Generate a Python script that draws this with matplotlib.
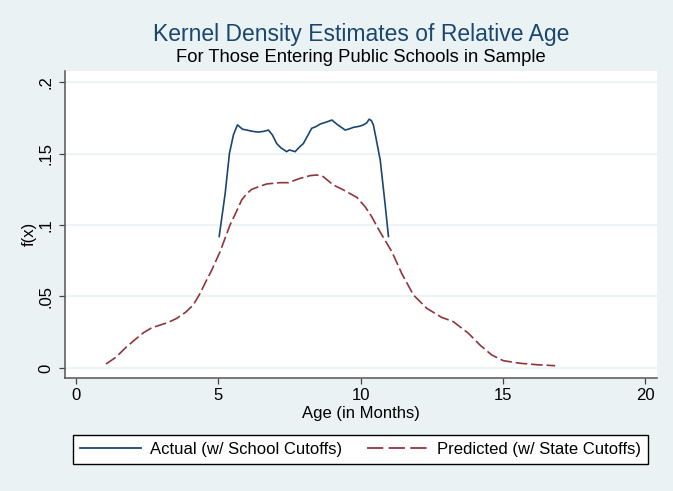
import matplotlib
matplotlib.use("Agg")
import matplotlib.pyplot as plt
from matplotlib.lines import Line2D

plt.rcParams['font.family'] = ['Liberation Sans', 'DejaVu Sans']

# ---- data ----
actual_x = [5.03, 5.24, 5.39, 5.53, 5.67, 5.85, 6.0, 6.2, 6.41, 6.6, 6.76, 6.9, 7.05, 7.2,
            7.40, 7.5, 7.58, 7.70, 7.85, 7.99, 8.1, 8.28, 8.45, 8.58, 8.8, 8.99, 9.2, 9.46,
            9.6, 9.75, 9.95, 10.1, 10.22, 10.30, 10.38, 10.45, 10.55, 10.69, 10.86, 10.98]
actual_y = [0.092, 0.122, 0.150, 0.163, 0.170, 0.167, 0.1664, 0.1655, 0.165, 0.1655, 0.1664,
            0.163, 0.157, 0.154, 0.1513, 0.1525, 0.152, 0.1513, 0.1545, 0.157, 0.161, 0.1676,
            0.169, 0.1706, 0.172, 0.1734, 0.170, 0.1664, 0.1672, 0.1683, 0.169, 0.170, 0.1715,
            0.174, 0.173, 0.170, 0.160, 0.1455, 0.115, 0.092]

pred_x = [1.05, 1.4, 1.72, 2.05, 2.37, 2.65, 2.95, 3.25, 3.54, 3.85, 4.12, 4.36, 4.55, 4.77,
          5.06, 5.41, 5.65, 5.82, 6.0, 6.18, 6.45, 6.70, 7.17, 7.46, 7.65, 7.87, 8.22, 8.46,
          8.69, 9.04, 9.40, 9.87, 10.16, 10.39, 10.69, 11.10, 11.45, 11.86, 12.33, 12.85,
          13.26, 13.79, 14.2, 14.61, 15.02, 15.61, 16.19, 16.84]
pred_y = [0.0028, 0.0075, 0.0138, 0.0195, 0.0247, 0.0280, 0.030, 0.032, 0.0347, 0.039, 0.0441,
          0.0522, 0.060, 0.0685, 0.0813, 0.100, 0.110, 0.1175, 0.122, 0.125, 0.127, 0.1287,
          0.1296, 0.1296, 0.131, 0.1326, 0.1345, 0.135, 0.1338, 0.128, 0.1245, 0.1193, 0.1128,
          0.1058, 0.095, 0.0813, 0.066, 0.051, 0.0417, 0.0354, 0.0324, 0.0243, 0.016, 0.0091,
          0.0051, 0.0033, 0.0023, 0.0016]

x_ticks = [0, 5, 10, 15, 20]
y_ticks = [0, 0.05, 0.1, 0.15, 0.2]
y_tick_labels = ['0', '.05', '.1', '.15', '.2']

title = 'Kernel Density Estimates of Relative Age'
subtitle = 'For Those Entering Public Schools in Sample'
labels = ['Actual (w/ School Cutoffs)', 'Predicted (w/ State Cutoffs)']

# ---- style ----
BG = '#eaf2f3'
NAVY = '#1a476f'
MAROON = '#90353b'
W, H = 673, 491

fig = plt.figure(figsize=(W / 100, H / 100), dpi=100, facecolor=BG)
ax = fig.add_axes([65 / W, 1 - 378 / H, (657 - 65) / W, (378 - 71) / H])
ax.set_facecolor('white')

ax.plot(actual_x, actual_y, color=NAVY, lw=1.2, solid_joinstyle='round')
ax.plot(pred_x, pred_y, color=MAROON, lw=1.2, linestyle=(0, (7, 2.3)))

ax.set_xlim(-0.39, 20.42)
ax.set_ylim(-0.007, 0.2077)
ax.set_xticks(x_ticks)
ax.set_yticks(y_ticks)
ax.set_yticklabels(y_tick_labels, rotation=90, va='center')
ax.tick_params(axis='both', labelsize=12, length=4.5, width=0.9, color='#444444')
ax.tick_params(axis='x', pad=3)
ax.tick_params(axis='y', pad=4)
ax.grid(axis='y', color=BG, lw=1.2)
ax.set_axisbelow(True)
for s in ['top', 'right']:
    ax.spines[s].set_visible(False)
for s in ['left', 'bottom']:
    ax.spines[s].set_color('#555555')
    ax.spines[s].set_linewidth(1.1)

ax.set_xlabel('Age (in Months)', fontsize=12, labelpad=2)
ax.set_ylabel('f(x)', fontsize=12)
ax.yaxis.set_label_coords(-0.047, 0.47)

cx = (65 + 657) / 2 / W
fig.text(cx, 1 - 35 / H, title, fontsize=16.5, color=NAVY, ha='center', va='center')
fig.text(cx, 1 - 58 / H, subtitle, fontsize=13.2, color='black', ha='center', va='center')

handles = [Line2D([], [], color=NAVY, lw=1.3),
           Line2D([], [], color=MAROON, lw=1.3, linestyle=(0, (9, 3)))]
leg = fig.legend(handles, labels, ncol=2, loc='center',
                 bbox_to_anchor=((71 + 650) / 2 / W, 1 - 449.5 / H),
                 fontsize=12, frameon=True, fancybox=False, edgecolor='black',
                 facecolor='white', framealpha=1, handlelength=3.66,
                 handletextpad=0.55, columnspacing=1.45, borderpad=0.42,
                 borderaxespad=0)
leg.get_frame().set_linewidth(1.0)

fig.savefig('out.png', dpi=100, facecolor=BG)
